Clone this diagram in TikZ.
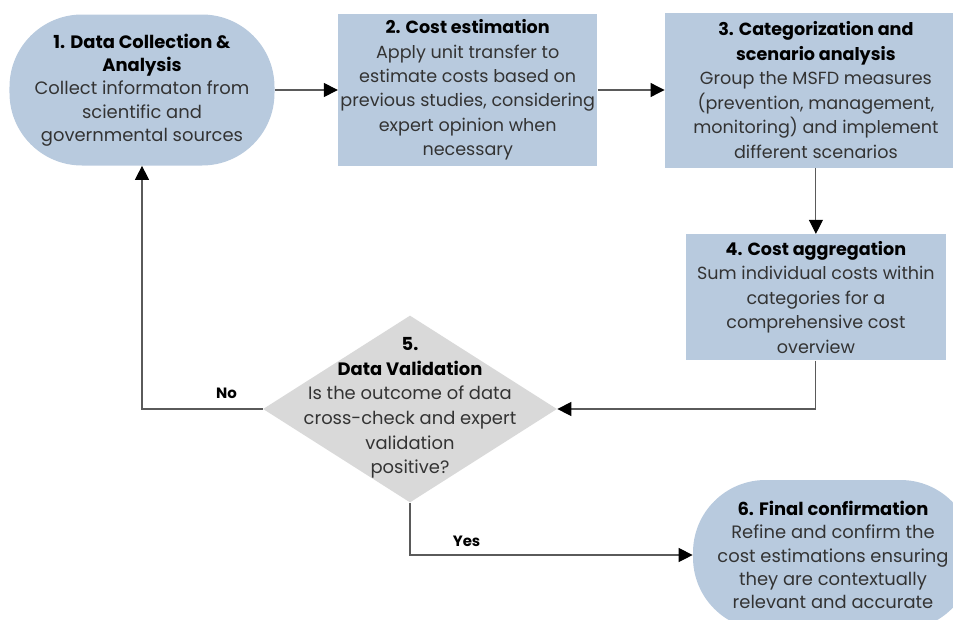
\documentclass[tikz,border=0pt]{standalone}
\usepackage{fontspec}
\setmainfont{Poppins}
\usetikzlibrary{shapes.geometric, arrows.meta, positioning}

\definecolor{stepblue}{HTML}{B8CADE}
\definecolor{checkgrey}{HTML}{D9D9D9}
\definecolor{linegrey}{HTML}{5A5A5A}
\definecolor{bodygrey}{HTML}{333333}

\newcommand{\heading}[1]{{\color{black}\bfseries #1}}

\tikzstyle{terminal} = [rectangle, rounded corners=1.45cm, minimum width=5.3cm, minimum height=3.02cm, align=center, fill=stepblue, text=bodygrey, font=\fontsize{10.2}{13.3}\selectfont]
\tikzstyle{process} = [rectangle, minimum width=5.18cm, minimum height=3cm, inner xsep=0pt, align=center, fill=stepblue, text=bodygrey, font=\fontsize{10}{13.9}\selectfont]
\tikzstyle{decision} = [diamond, minimum width=5.88cm, minimum height=3.74cm, inner sep=0pt, fill=checkgrey]
\tikzstyle{arrow} = [draw=linegrey, line width=0.6pt, -{Triangle[length=8pt, width=8pt, color=black]}]
\tikzstyle{answer} = [font=\bfseries\fontsize{8.5}{10}\selectfont, text=black]

\begin{document}
\begin{tikzpicture}
\useasboundingbox (0,0) rectangle (19.06,-12.38);

    \node (collect)   [terminal] at (2.84,-1.80)
        {\heading{1. Data Collection \&}\\ \heading{Analysis}\\ Collect informaton from\\ scientific and\\ governmental sources};
    \node (estimate)  [process, right=1.26cm of collect]
        {\heading{2. Cost estimation}\\ Apply unit transfer to\\ estimate costs based on\\ previous studies, considering\\ expert opinion when\\ necessary};
    \node (scenario)  [process, right=1.34cm of estimate, minimum width=6.04cm, minimum height=3.1cm]
        {\heading{3. Categorization and}\\ \heading{scenario analysis}\\ Group the MSFD measures\\ (prevention, management,\\ monitoring) and implement\\ different scenarios};
    \node (aggregate) [process, below=1.32cm of scenario, minimum width=5.2cm, minimum height=2.52cm]
        {\heading{4. Cost aggregation}\\ Sum individual costs within\\ categories for a\\ comprehensive cost\\ overview};
    \node (validate)  [decision, label={[align=center, text=bodygrey, font=\fontsize{10.2}{14}\selectfont, yshift=0.02cm]center:\heading{5.}\\ \heading{Data Validation}\\ Is the outcome of data\\ cross-check and expert\\ validation\\ positive?}] at (8.20,-8.18) {};
    \node (confirm)   [terminal, minimum width=5.6cm, minimum height=3.0cm] at (16.66,-11.10)
        {\heading{6. Final confirmation}\\ Refine and confirm the\\ cost estimations ensuring\\ they are contextually\\ relevant and accurate};

    \draw [arrow] (collect)   -- (estimate);
    \draw [arrow] (estimate)  -- (scenario);
    \draw [arrow] (scenario)  -- (aggregate);
    \draw [arrow] (aggregate) |- (validate.east);
    \draw [arrow] (validate.west)  -| node[answer, pos=0.15, above=2pt] {No} (collect.south);
    \draw [arrow] (validate.south) |- node[answer, pos=0.6, above=1pt] {Yes} (confirm.west);

\end{tikzpicture}
\end{document}
